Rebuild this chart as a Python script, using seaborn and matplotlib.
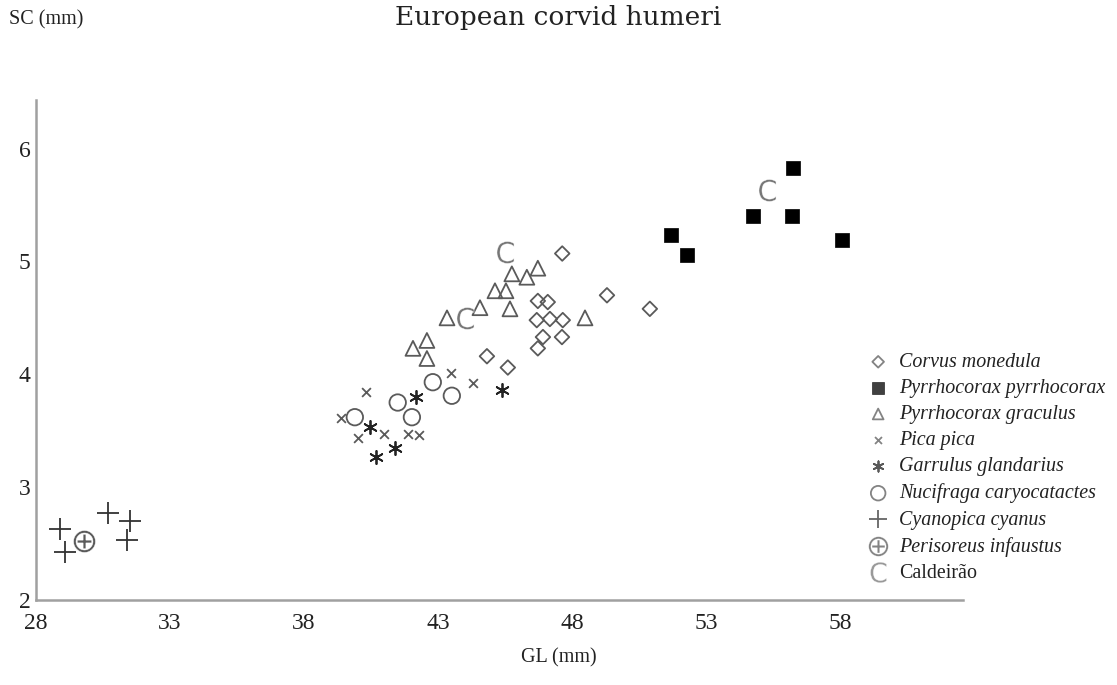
import numpy as np
import pandas as pd
import matplotlib
matplotlib.use("Agg")
import matplotlib.pyplot as plt
import seaborn as sns

# Humerus measurements: GL (greatest length) vs SC (shaft width), in mm
corvus_gl = [47.64, 49.31, 50.91, 46.73, 47.10, 46.69, 47.18, 47.66, 46.92, 47.63, 46.73, 44.83, 45.61]
corvus_sc = [5.07, 4.70, 4.58, 4.65, 4.64, 4.48, 4.49, 4.48, 4.33, 4.33, 4.23, 4.16, 4.06]

pyrrho_gl = [51.7, 52.3, 54.75, 56.2, 56.25, 58.1]
pyrrho_sc = [5.23, 5.06, 5.40, 5.40, 5.83, 5.19]

graculus_gl = [45.76, 46.32, 46.73, 45.13, 45.54, 44.57, 45.69, 43.34, 48.49, 42.07, 42.59, 42.59]
graculus_sc = [4.89, 4.86, 4.94, 4.74, 4.74, 4.59, 4.58, 4.50, 4.50, 4.23, 4.30, 4.14]

pica_gl = [40.3, 43.5, 44.3, 39.4, 40.0, 41.0, 41.9, 42.3]
pica_sc = [3.84, 4.01, 3.92, 3.61, 3.44, 3.47, 3.47, 3.46]

garrulus_gl = [42.2, 40.46, 45.39, 40.7, 41.4]
garrulus_sc = [3.80, 3.53, 3.86, 3.27, 3.35]

nucifraga_gl = [42.81, 43.52, 41.5, 42.03, 39.9]
nucifraga_sc = [3.93, 3.81, 3.75, 3.62, 3.62]

cyanopica_gl = [28.9, 29.1, 30.7, 31.5, 31.4]
cyanopica_sc = [2.63, 2.43, 2.77, 2.70, 2.53]

perisoreus_gl = [29.8]
perisoreus_sc = [2.52]

caldeirao_gl = [45.5, 44.0, 55.3]
caldeirao_sc = [5.08, 4.50, 5.63]

species = [
    "Corvus monedula", "Pyrrhocorax pyrrhocorax", "Pyrrhocorax graculus",
    "Pica pica", "Garrulus glandarius", "Nucifraga caryocatactes",
    "Cyanopica cyanus", "Perisoreus infaustus", "Caldeirão",
]
gl_values = [corvus_gl, pyrrho_gl, graculus_gl, pica_gl, garrulus_gl,
             nucifraga_gl, cyanopica_gl, perisoreus_gl, caldeirao_gl]
sc_values = [corvus_sc, pyrrho_sc, graculus_sc, pica_sc, garrulus_sc,
             nucifraga_sc, cyanopica_sc, perisoreus_sc, caldeirao_sc]

df = pd.concat(
    [pd.DataFrame({"GL": g, "SC": s, "species": name})
     for name, g, s in zip(species, gl_values, sc_values)],
    ignore_index=True,
)

sns.set_theme(style="white")
plt.rcParams["font.family"] = ["Liberation Serif", "DejaVu Serif"]

GREY = "#5a5a5a"
styles = {
    "Corvus monedula": dict(marker="D", s=55, facecolor="none", edgecolor=GREY, linewidth=1.3),
    "Pyrrhocorax pyrrhocorax": dict(marker="s", s=95, color="black", edgecolor="black", linewidth=0.5),
    "Pyrrhocorax graculus": dict(marker="^", s=115, facecolor="none", edgecolor=GREY, linewidth=1.3),
    "Pica pica": dict(marker="x", s=40, color=GREY, linewidth=1.3),
    "Garrulus glandarius": dict(marker=(6, 2, 0), s=90, color="#222222", linewidth=1.3),
    "Nucifraga caryocatactes": dict(marker="o", s=140, facecolor="none", edgecolor=GREY, linewidth=1.3),
    "Cyanopica cyanus": dict(marker="+", s=230, color="#333333", linewidth=1.3),
    "Perisoreus infaustus": dict(marker=r"$\oplus$", s=250, color=GREY, linewidth=0.3),
    "Caldeirão": dict(marker=r"$\mathsf{C}$", s=250, color="#777777", linewidth=0.3),
}
legend_sizes = {
    "Corvus monedula": 35, "Pyrrhocorax pyrrhocorax": 70, "Pyrrhocorax graculus": 60,
    "Pica pica": 25, "Garrulus glandarius": 55, "Nucifraga caryocatactes": 110,
    "Cyanopica cyanus": 160, "Perisoreus infaustus": 200, "Caldeirão": 220,
}

fig = plt.figure(figsize=(11.17, 6.85), dpi=100)
ax = fig.add_axes([0.0322, 0.124, 0.830, 0.730])

for name in species:
    sub = df[df["species"] == name]
    sns.scatterplot(data=sub, x="GL", y="SC", ax=ax, label=name, **styles[name])

ax.set_xlim(28, 62.6)
ax.set_ylim(2, 6.43)
ax.set_xticks([28, 33, 38, 43, 48, 53, 58])
ax.set_yticks([2, 3, 4, 5, 6])
ax.set_xlabel("")
ax.set_ylabel("")

for side in ("top", "right"):
    ax.spines[side].set_visible(False)
for side in ("left", "bottom"):
    ax.spines[side].set_color("#a0a0a0")
    ax.spines[side].set_linewidth(1.8)

ax.tick_params(axis="both", direction="in", length=6, width=1.2, color="#a0a0a0",
               labelsize=17, labelcolor="#222222")
ax.tick_params(axis="x", pad=9)
ax.tick_params(axis="y", pad=4)

leg = ax.legend(loc="upper left", bbox_to_anchor=(0.889, 0.51), frameon=False,
                fontsize=14.4, handletextpad=0.55, labelspacing=0.355,
                borderaxespad=0, handlelength=1.0)
for txt, handle in zip(leg.get_texts(), leg.legend_handles):
    name = txt.get_text()
    if name != "Caldeirão":
        txt.set_fontstyle("italic")
    txt.set_color("#222222")
    handle.set_sizes([legend_sizes[name]])
    handle.set_alpha(0.75)

fig.text(0.5, 0.993, "European corvid humeri", ha="center", va="top",
         fontsize=19, color="#222222", family=["DejaVu Serif"])
fig.text(0.008, 0.985, "SC (mm)", ha="left", va="top", fontsize=14.5, color="#222222")
fig.text(0.5, 0.025, "GL (mm)", ha="center", va="bottom", fontsize=14.5, color="#222222")

fig.savefig("out.png", dpi=100)
